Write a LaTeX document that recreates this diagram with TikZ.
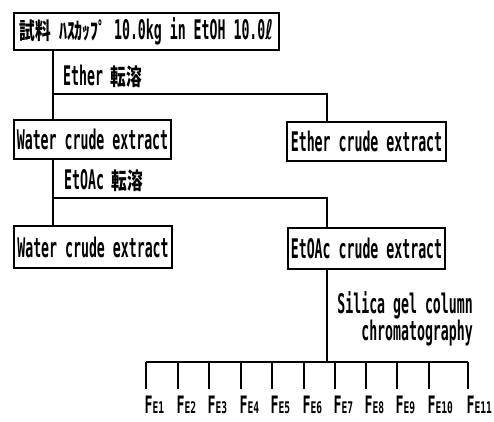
\documentclass[tikz,border=0pt]{standalone}
\usepackage{fontspec}
\newfontfamily\mono{DejaVu Sans Mono}[FakeStretch=0.49]
\newfontfamily\monof{DejaVu Sans Mono}[FakeStretch=0.55]
\newfontfamily\monosub{DejaVu Sans Mono}[FakeStretch=0.6]
\newfontfamily\dvs{DejaVu Sans}[FakeStretch=0.6]
\newfontfamily\cjk{Noto Sans CJK JP}[FakeStretch=0.68]
\newcommand{\cj}[1]{{\fontsize{23}{25}\selectfont\cjk\bfseries #1}}
\newcommand{\fe}[1]{F{\monosub\bfseries\fontsize{16}{16}\selectfont #1}}
\begin{document}
\begin{tikzpicture}[x=1pt,y=-1pt,
  every node/.style={font=\mono\bfseries\fontsize{27}{29}\selectfont, inner sep=0pt},
  box/.style={draw, line width=1.5pt, rectangle},
  conn/.style={line width=1.5pt},
  lbl/.style={anchor=base west, text height=19pt, text depth=0pt},
  note/.style={anchor=north east, align=right, font=\mono\bfseries\fontsize{27}{21.5}\selectfont},
  frac/.style={anchor=base west, text height=17pt, text depth=0pt,
    font=\monof\bfseries\fontsize{24}{24}\selectfont}]
\useasboundingbox (0,0) rectangle (494,421);
% boxes
\node[box, minimum width=265pt, minimum height=37pt] (top) at (146.5,31.5)
  {\cj{試料}\ \cj{ﾊｽｶｯﾌﾟ}\ 10.0kg in EtOH 10.0{\dvs\bfseries ℓ}};
\node[box, minimum width=157pt, minimum height=39pt] (w1) at (92.5,139.5) {Water crude extract};
\node[box, minimum width=159pt, minimum height=39pt] (ether) at (366.5,141.5) {Ether crude extract};
\node[box, minimum width=158pt, minimum height=42pt] (w2) at (93,247) {Water crude extract};
\node[box, minimum width=157pt, minimum height=41pt] (etoac) at (366.5,248.5) {EtOAc crude extract};
% labels
\node[lbl] (l1) at (63,85) {Ether \cj{転溶}};
\node[lbl] (l2) at (64,189) {EtOAc \cj{転溶}};
\node[note] (l3) at (473,291.5) {Silica gel column\\chromatography};
% junctions
\coordinate (j1) at (53,94);
\coordinate (k1) at (327,94);
\coordinate (j2) at (53,198);
\coordinate (k2) at (327,198);
\coordinate (j3) at (327,362);
% connectors
\draw[conn] (top.south -| j1) -- (w1.north -| j1);
\draw[conn] (j1) -- (k1) -- (ether.north -| k1);
\draw[conn] (w1.south -| j2) -- (w2.north -| j2);
\draw[conn] (j2) -- (k2) -- (etoac.north -| k2);
\draw[conn] (etoac.south -| j3) -- (j3);
% fractions
\foreach \i/\x in {1/146,2/178,3/209,4/241,5/272,6/304,7/335,8/366,9/397,10/429,11/468}{
  \coordinate (t\i) at (\x,362);
  \node[frac] (f\i) at (\x-1.5,413) {\fe{E\i}};
  \draw[conn] (t\i) -- ++(0,27);
}
\draw[conn] (t1) -- (t11);
\end{tikzpicture}
\end{document}
